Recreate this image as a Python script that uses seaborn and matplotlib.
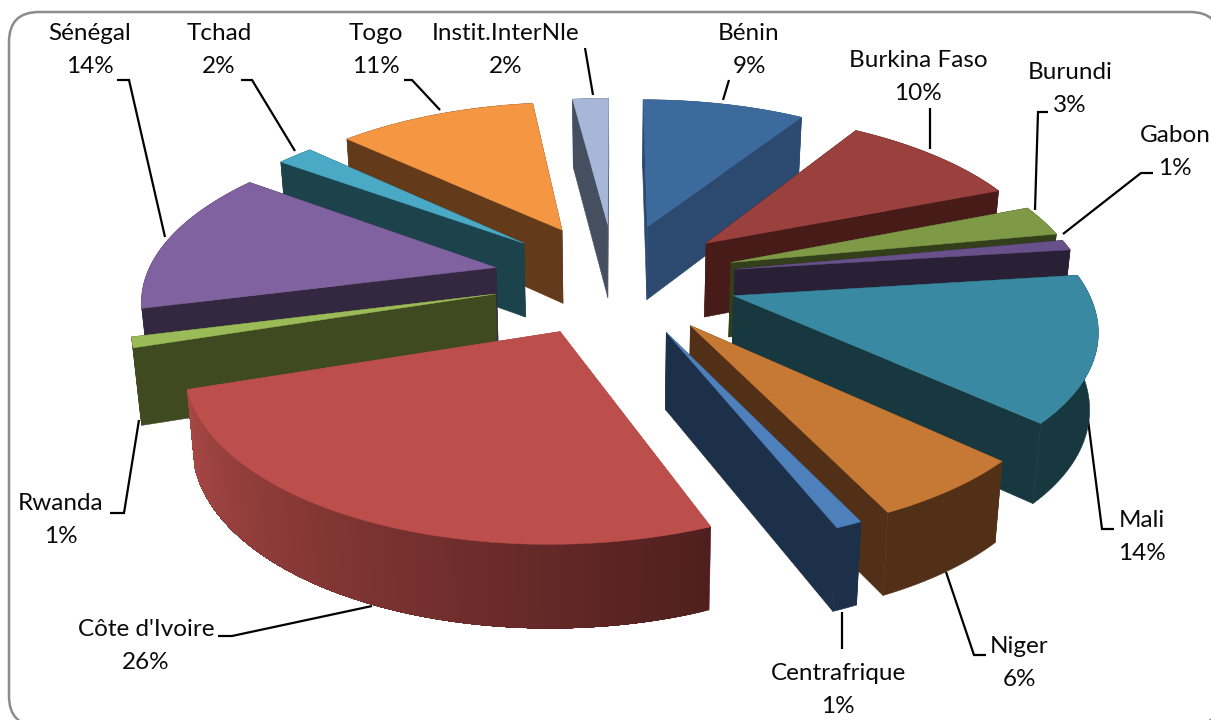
import numpy as np
import matplotlib
matplotlib.use("Agg")
import matplotlib.pyplot as plt
from matplotlib.patches import FancyBboxPatch, Polygon
import seaborn as sns

# Share of each member, clockwise from twelve o'clock
countries = ["Bénin", "Burkina Faso", "Burundi", "Gabon", "Mali", "Niger", "Centrafrique",
             "Côte d'Ivoire", "Rwanda", "Sénégal", "Tchad", "Togo", "Instit.InterNle"]
shares = [9, 10, 3, 1, 14, 6, 1, 26, 1, 14, 2, 11, 2]
top_colors = ["#3D6A9C", "#9A403D", "#7F9A47", "#68508A", "#3A89A2", "#C67835", "#4E80BC",
              "#BC4E4B", "#9BBB59", "#7F629F", "#4AA9C4", "#F59642", "#A8B7D8"]
side_colors = ["#2C4A70", "#471B18", "#333E1B", "#2A2035", "#17383F", "#523017", "#1D3049",
               "#A84845", "#404A20", "#33283F", "#1C424C", "#633B1B", "#454F60"]
rim_dark = "#4F1F1E"

# Label text anchor and leader-line path for each slice
label_xy = [(749, 50), (918, 77), (1070, 89), (1175, 152), (1142, 537), (1019, 663), (838, 690),
            (146, 646), (61, 520), (90, 50), (219, 50), (376, 50), (506, 50)]
leaders = [[(729, 80), (723, 100)],
           [(930, 108), (930, 149)],
           [(1048, 112), (1038, 112), (1035, 210)],
           [(1153, 173), (1141, 173), (1063, 234)],
           [(1114, 529), (1102, 529), (1088, 420)],
           [(986, 655), (974, 655), (946, 572)],
           [(842, 649), (842, 612)],
           [(218, 636), (232, 636), (372, 606)],
           [(110, 513), (124, 513), (139, 420)],
           [(117, 80), (129, 80), (165, 237)],
           [(241, 80), (252, 80), (295, 151)],
           [(404, 80), (412, 80), (440, 110)],
           [(585, 48), (593, 95)]]

sns.set_theme(style="white")
plt.rcParams["font.family"] = ["Lato", "DejaVu Sans"]

# Camera of the tilted pie, in figure pixels
CX, CY = 615, 278
RX, RY = 350, 161
PERSPECTIVE_X, PERSPECTIVE_Y = 0.16, 0.155
THICKNESS = 75
EXPLODE = 0.35


def project(angle, radius, height, offset):
    """Map a point of the pie (clockwise angle, radius, height 0 top / 1 bottom) to the canvas."""
    x = radius * np.sin(angle) + offset[0]
    y = radius * np.cos(angle) + offset[1]
    scale_x = 1.0 / (1.0 + PERSPECTIVE_X * y)
    scale_y = 1.0 / (1.0 + PERSPECTIVE_Y * y)
    px = CX + RX * x * scale_x * (1 - 0.018 * height)
    py = CY - RY * y * scale_y + THICKNESS * height * scale_y ** 0.5
    return np.column_stack([px, py])


fig = plt.figure(figsize=(12.11, 7.2), dpi=100)
ax = fig.add_axes([0, 0, 1, 1])
ax.set_xlim(0, 1211)
ax.set_ylim(720, 0)
ax.axis("off")

ax.add_patch(FancyBboxPatch((9, 12), 1211, 714, boxstyle="round,pad=0,rounding_size=30",
                            fc="white", ec="#8C8C8C", lw=1.8, zorder=0))

edges = np.cumsum([0] + shares) / np.sum(shares) * 2 * np.pi
slices = []
for i, share in enumerate(shares):
    slices.append((edges[i], edges[i + 1], i))
slices.sort(key=lambda s: -np.cos((s[0] + s[1]) / 2))

z = 2
for a0, a1, i in slices:
    mid = (a0 + a1) / 2
    off = (EXPLODE * np.sin(mid), EXPLODE * np.cos(mid))
    arc = np.linspace(a0, a1, max(6, int(shares[i] * 5)))
    top_arc = project(arc, 1.0, 0.0, off)
    low_arc = project(arc, 1.0, 1.0, off)
    apex_top = project(np.array([0.0]), 0.0, 0.0, off)
    apex_low = project(np.array([0.0]), 0.0, 1.0, off)

    side = side_colors[i]
    for end_top, end_low in ((top_arc[0], low_arc[0]), (top_arc[-1], low_arc[-1])):
        face = np.vstack([apex_top, [end_top], [end_low], apex_low])
        ax.add_patch(Polygon(face, fc=side, ec=side, lw=0.4, zorder=z))

    # Outer rim: stepped shading on the large front slice, flat elsewhere
    if countries[i] == "Côte d'Ivoire":
        ramp = sns.blend_palette([rim_dark, side], len(arc) - 1)
        for k in range(len(arc) - 1):
            facet = np.vstack([top_arc[k:], low_arc[k:][::-1]])
            ax.add_patch(Polygon(facet, fc=ramp[k], ec="none", zorder=z))
    else:
        rim = np.vstack([top_arc, low_arc[::-1]])
        ax.add_patch(Polygon(rim, fc=side, ec=side, lw=0.4, zorder=z))

    top = np.vstack([apex_top, top_arc])
    ax.add_patch(Polygon(top, fc=top_colors[i], ec=top_colors[i], lw=0.3, zorder=z))
    z += 1

for path in leaders:
    pts = np.array(path)
    ax.plot(pts[:, 0], pts[:, 1], color="black", lw=1.6, solid_capstyle="butt",
            solid_joinstyle="miter", zorder=1)

for name, share, (x, y) in zip(countries, shares, label_xy):
    ax.text(x, y, f"{name}\n{share}%", ha="center", va="center", fontsize=17.5,
            color="#0A0A0A", linespacing=1.66, zorder=60)

fig.savefig("out.png", dpi=100)
